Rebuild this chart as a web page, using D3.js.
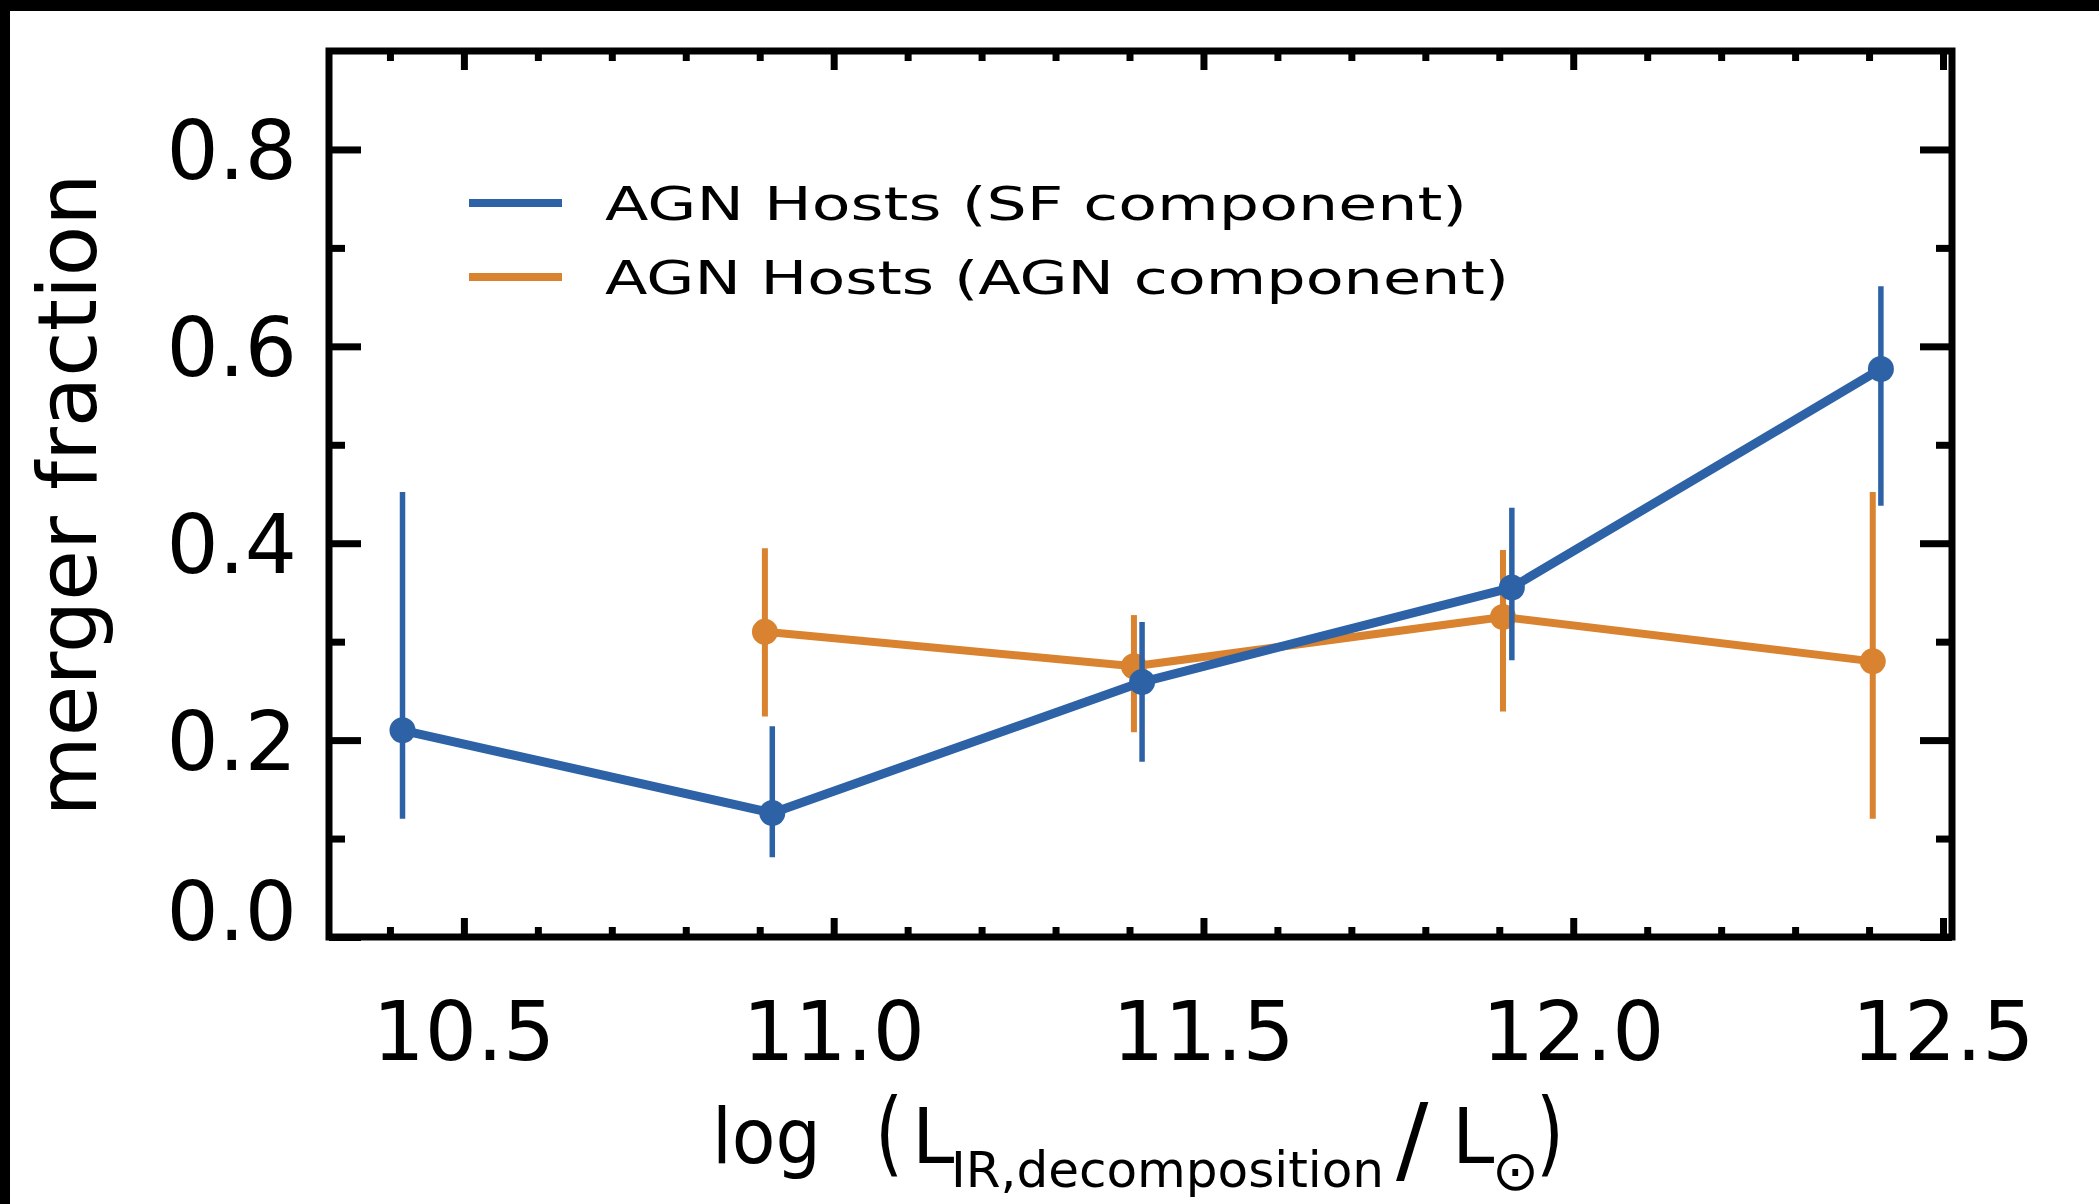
<!DOCTYPE html>
<html>
<head>
<meta charset="utf-8">
<script src="https://cdn.jsdelivr.net/npm/d3@7"></script>
<style>
  body { margin: 0; background: #ffffff; }
  svg { display: block; }
  text { font-family: "DejaVu Sans", "Liberation Sans", sans-serif; fill: #000; }
</style>
</head>
<body>
<svg id="chart" width="2099" height="1204"></svg>
<script>
// Merger fraction vs. IR luminosity for AGN hosts, split by SED component
const seriesNames = ["AGN Hosts (SF component)", "AGN Hosts (AGN component)"];

// SF component
const sfX  = [10.417, 10.917, 11.417, 11.917, 12.416];
const sfY  = [0.210, 0.126, 0.259, 0.355, 0.577];
const sfHi = [0.452, 0.214, 0.320, 0.436, 0.661];
const sfLo = [0.120, 0.081, 0.178, 0.281, 0.438];

// AGN component
const agnX  = [10.907, 11.406, 11.905, 12.405];
const agnY  = [0.310, 0.275, 0.325, 0.280];
const agnHi = [0.395, 0.327, 0.393, 0.452];
const agnLo = [0.224, 0.208, 0.229, 0.120];

const xTickLabels = ["10.5", "11.0", "11.5", "12.0", "12.5"];
const yTickLabels = ["0.0", "0.2", "0.4", "0.6", "0.8"];

const COLORS = ["#2e62a6", "#d9822f"];

const svg = d3.select("#chart");

// dark edges of the page
svg.append("rect").attr("x", 0).attr("y", 0).attr("width", 2099).attr("height", 11).attr("fill", "#000");
svg.append("rect").attr("x", 0).attr("y", 0).attr("width", 10).attr("height", 1204).attr("fill", "#000");

const L = 329, R = 1952, T = 51, B = 937;
const x = d3.scaleLinear().domain([10.3176, 12.5135]).range([L, R + 1]);
const y = d3.scaleLinear().domain([0, 0.9]).range([B, T]);

const xMajor = xTickLabels.map(Number);
const xMinor = d3.range(104, 126).map(v => v / 10).filter(v => !xMajor.some(m => Math.abs(m - v) < 1e-6));
const yMajor = yTickLabels.map(Number);
const yMinor = [0.1, 0.3, 0.5, 0.7];

function styleAxis(g) {
  g.select(".domain").remove();
  g.selectAll(".tick line").attr("stroke", "#000").attr("stroke-width", 7);
  g.selectAll(".tick text").remove();
}

// tick marks on all four sides, pointing inward
svg.append("g").attr("transform", `translate(0,${B})`)
  .call(d3.axisBottom(x).tickValues(xMajor).tickSize(-19).tickFormat("")).call(styleAxis);
svg.append("g").attr("transform", `translate(0,${B})`)
  .call(d3.axisBottom(x).tickValues(xMinor).tickSize(-10).tickFormat("")).call(styleAxis);
svg.append("g").attr("transform", `translate(0,${T})`)
  .call(d3.axisTop(x).tickValues(xMajor).tickSize(-19).tickFormat("")).call(styleAxis);
svg.append("g").attr("transform", `translate(0,${T})`)
  .call(d3.axisTop(x).tickValues(xMinor).tickSize(-10).tickFormat("")).call(styleAxis);
svg.append("g").attr("transform", `translate(${L},0)`)
  .call(d3.axisLeft(y).tickValues(yMajor).tickSize(-32).tickFormat("")).call(styleAxis);
svg.append("g").attr("transform", `translate(${L},0)`)
  .call(d3.axisLeft(y).tickValues(yMinor).tickSize(-16).tickFormat("")).call(styleAxis);
svg.append("g").attr("transform", `translate(${R},0)`)
  .call(d3.axisRight(y).tickValues(yMajor).tickSize(-32).tickFormat("")).call(styleAxis);
svg.append("g").attr("transform", `translate(${R},0)`)
  .call(d3.axisRight(y).tickValues(yMinor).tickSize(-16).tickFormat("")).call(styleAxis);

// plot frame
svg.append("rect").attr("x", L).attr("y", T).attr("width", R - L).attr("height", B - T)
  .attr("fill", "none").attr("stroke", "#000").attr("stroke-width", 7);

// tick labels
svg.append("g").selectAll("text").data(xTickLabels).join("text")
  .attr("x", d => x(+d)).attr("y", 1060)
  .attr("text-anchor", "middle").attr("font-size", 82)
  .text(d => d);

svg.append("g").selectAll("text").data(yTickLabels).join("text")
  .attr("x", 297).attr("y", d => (+d === 0 ? y(+d) + 3 : y(+d) + 30))
  .attr("text-anchor", "end").attr("font-size", 82)
  .text(d => d);

// axis titles
svg.append("text")
  .attr("transform", "translate(96,495) rotate(-90)")
  .attr("text-anchor", "middle").attr("font-size", 82)
  .attr("textLength", 643).attr("lengthAdjust", "spacingAndGlyphs")
  .text("merger fraction");

const xt = svg.append("g");
xt.append("text").attr("x", 712).attr("y", 1163).attr("font-size", 76)
  .attr("textLength", 109).attr("lengthAdjust", "spacingAndGlyphs").text("log");
xt.append("text").attr("x", 875).attr("y", 1165).attr("font-size", 92)
  .attr("textLength", 28).attr("lengthAdjust", "spacingAndGlyphs").text("(");
xt.append("text").attr("x", 912).attr("y", 1163).attr("font-size", 76).text("L");
xt.append("text").attr("x", 951).attr("y", 1187).attr("font-size", 50)
  .attr("textLength", 433).attr("lengthAdjust", "spacingAndGlyphs").text("IR,decomposition");
xt.append("text").attr("x", 1396).attr("y", 1172).attr("font-size", 96).text("/");
xt.append("text").attr("x", 1452).attr("y", 1163).attr("font-size", 76).text("L");
xt.append("text").attr("x", 1492).attr("y", 1190).attr("font-size", 56).text("\u2299");
xt.append("text").attr("x", 1536).attr("y", 1165).attr("font-size", 92)
  .attr("textLength", 28).attr("lengthAdjust", "spacingAndGlyphs").text(")");

// data series
const series = [
  { xs: agnX, ys: agnY, hi: agnHi, lo: agnLo, color: COLORS[1], lw: 8, ew: 6 },
  { xs: sfX, ys: sfY, hi: sfHi, lo: sfLo, color: COLORS[0], lw: 9, ew: 5.5 }
];

const line = d3.line().x(d => x(d.x)).y(d => y(d.y));

series.forEach(s => {
  const pts = s.xs.map((xv, i) => ({ x: xv, y: s.ys[i], hi: s.hi[i], lo: s.lo[i] }));
  const g = svg.append("g");
  g.selectAll("line.err").data(pts).join("line").attr("class", "err")
    .attr("x1", d => x(d.x)).attr("x2", d => x(d.x))
    .attr("y1", d => y(d.lo)).attr("y2", d => y(d.hi))
    .attr("stroke", s.color).attr("stroke-width", s.ew);
  g.append("path").datum(pts).attr("d", line)
    .attr("fill", "none").attr("stroke", s.color).attr("stroke-width", s.lw)
    .attr("stroke-linejoin", "round");
  g.selectAll("circle").data(pts).join("circle")
    .attr("cx", d => x(d.x)).attr("cy", d => y(d.y)).attr("r", 13)
    .attr("fill", s.color);
});

// legend
const legendY = [203, 277];
const legendW = [862, 904];
const lg = svg.append("g");
seriesNames.forEach((name, i) => {
  lg.append("line").attr("x1", 469).attr("x2", 562)
    .attr("y1", legendY[i]).attr("y2", legendY[i])
    .attr("stroke", COLORS[i]).attr("stroke-width", 8);
  lg.append("text").attr("x", 605).attr("y", legendY[i] + 17)
    .attr("font-size", 47)
    .attr("textLength", legendW[i]).attr("lengthAdjust", "spacingAndGlyphs")
    .text(name);
});
</script>
</body>
</html>
